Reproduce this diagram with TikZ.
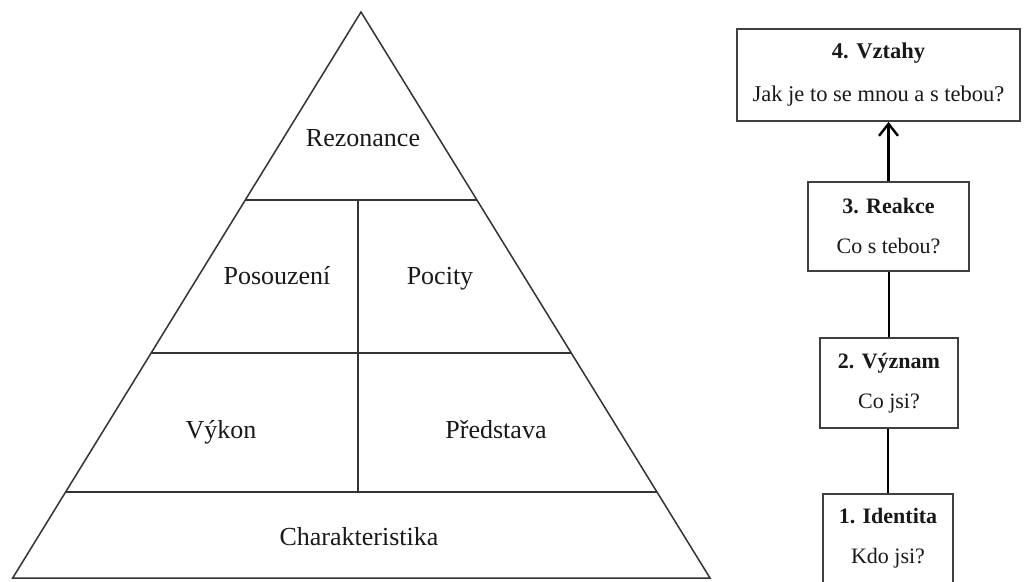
\documentclass[tikz,border=0pt]{standalone}
\usepackage{fontspec}
\setmainfont{Liberation Serif}
\usetikzlibrary{arrows.meta}
\tikzset{
  pyrline/.style={draw=black!80, line width=1.5pt, line join=miter},
  pyrlabel/.style={inner sep=0pt, text height=17pt, text depth=5pt, font=\fontsize{26}{30}\selectfont, text=black!90},
  stagebox/.style={draw=black!75, line width=1.8pt, fill=white, inner sep=0pt, align=center,
    font=\fontsize{22}{40}\selectfont, text=black!90},
  link/.style={draw=black, line width=2.8pt},
}
\begin{document}
\begin{tikzpicture}[x=1pt, y=-1pt]
\useasboundingbox (0,0) rectangle (1024,581);
\fill[white] (0,0) rectangle (1024,581);
% pyramid
\coordinate (apex) at (361,12);
\coordinate (bl) at (12.7,578);
\coordinate (br) at (710,578);
\draw[pyrline] (apex) -- (bl) -- (br) -- cycle;
\draw[pyrline] (245.3,200) -- (476.9,200);
\draw[pyrline] (151,353) -- (571,353);
\draw[pyrline] (65.6,492) -- (657,492);
\draw[pyrline] (358,200) -- (358,492);
\node[pyrlabel] (rez) at (363,140) {Rezonance};
\node[pyrlabel] (pos) at (277,278) {Posouzení};
\node[pyrlabel] (poc) at (440,278) {Pocity};
\node[pyrlabel] (vyk) at (221,432) {Výkon};
\node[pyrlabel] (pre) at (496,432) {Představa};
\node[pyrlabel] (cha) at (359,539) {Charakteristika};
% stages
\node[stagebox, minimum width=283pt, minimum height=92pt, font=\fontsize{22.5}{43}\selectfont] (b4) at (878.5,75) {\textbf{4. Vztahy}\\Jak je to se mnou a s tebou?};
\node[stagebox, minimum width=161pt, minimum height=89pt] (b3) at (888.5,226.5) {\textbf{3. Reakce}\\Co s tebou?};
\node[stagebox, minimum width=138pt, minimum height=90pt] (b2) at (889,383) {\textbf{2. Význam}\\Co jsi?};
\node[stagebox, minimum width=130pt, minimum height=89pt] (b1) at (888,538.5) {\textbf{1. Identita}\\Kdo jsi?};
\draw[link, -{Straight Barb[length=12pt, width=19pt, line width=2.4pt]}] (b3.north) -- (b3.north |- b4.south);
\draw[link] (b2.north) -- (b2.north |- b3.south);
\draw[link] (b1.north) -- (b1.north |- b2.south);
\end{tikzpicture}
\end{document}
